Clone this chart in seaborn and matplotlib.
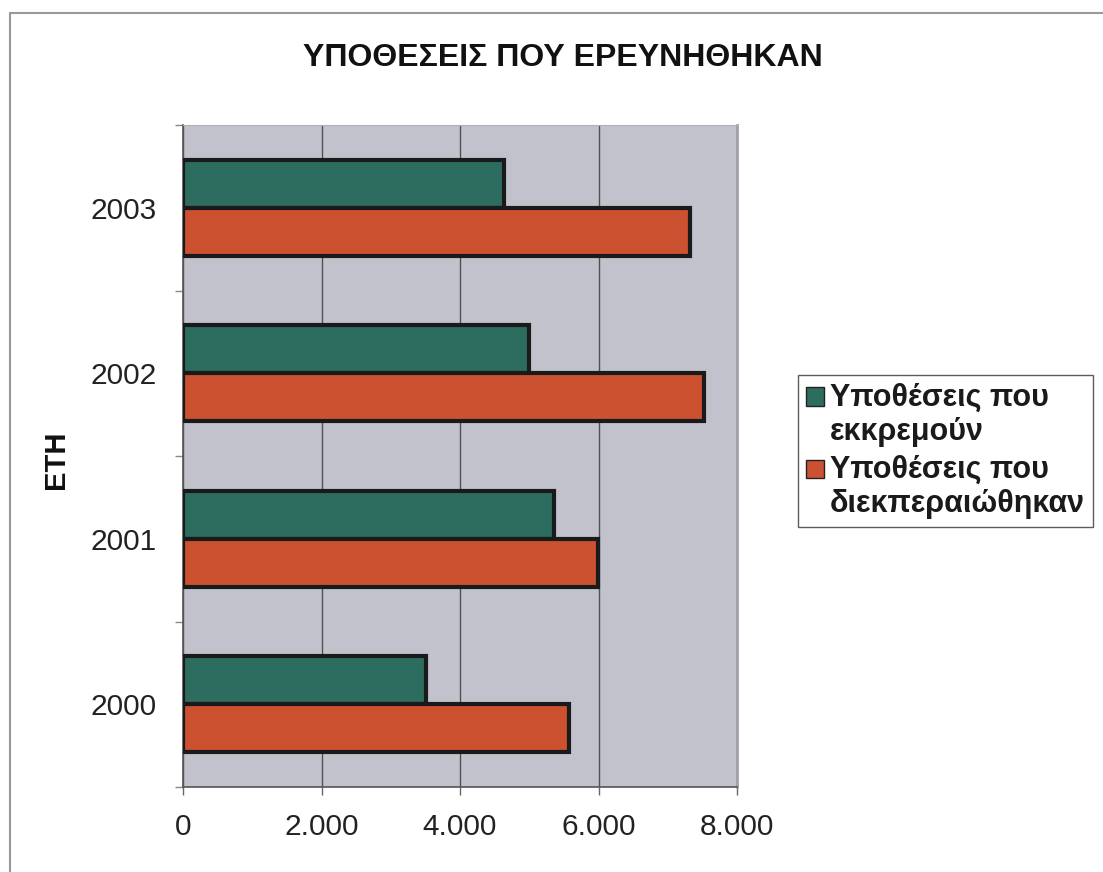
import matplotlib
matplotlib.use('Agg')
import matplotlib.pyplot as plt
import matplotlib.ticker as mticker
from matplotlib.lines import Line2D
from matplotlib.legend_handler import HandlerPatch
from matplotlib.font_manager import FontProperties
import pandas as pd
import seaborn as sns

# data
years = ['2003', '2002', '2001', '2000']
pending = [4630, 5000, 5360, 3510]
completed = [7320, 7520, 5990, 5580]
series_names = ['Υποθέσεις που\nεκκρεμούν', 'Υποθέσεις που\nδιεκπεραιώθηκαν']
xtick_values = [0, 2000, 4000, 6000, 8000]
xtick_labels = ['0', '2.000', '4.000', '6.000', '8.000']

df = pd.DataFrame({
    'year': years * 2,
    'value': pending + completed,
    'series': [series_names[0]] * len(years) + [series_names[1]] * len(years),
})

sns.set_style('white')
plt.rcParams['font.family'] = ['Liberation Sans', 'DejaVu Sans']

fig = plt.figure(figsize=(11.03, 8.72), dpi=100)
ax = fig.add_axes([183 / 1103, 1 - 787 / 872, 554 / 1103, 662 / 872])

colors = ['#2d6d60', '#cb5130']
sns.barplot(data=df, x='value', y='year', hue='series', order=years,
            hue_order=series_names, palette=colors, saturation=1, orient='h',
            width=0.58, edgecolor='#1a1a1a', linewidth=3, ax=ax, zorder=3)

ax.set_facecolor('#c1c2cc')
ax.set_xlim(0, 8000)
ax.set_xticks(xtick_values)
ax.set_xticklabels(xtick_labels)
ax.xaxis.grid(True, color='#505058', linewidth=1)
ax.set_axisbelow(True)
ax.set_xlabel('')
ax.set_ylabel('')

ax.tick_params(axis='x', labelsize=21.5, length=6, width=1, color='#666666',
               pad=13, bottom=True, labelcolor='#222222')
ax.tick_params(axis='y', which='major', labelsize=21.5, length=0, pad=19,
               labelcolor='#222222')
ax.yaxis.set_minor_locator(mticker.FixedLocator([-0.5, 0.5, 1.5, 2.5, 3.5]))
ax.tick_params(axis='y', which='minor', length=6, width=1, color='#888888', left=True)

for side in ['left', 'bottom']:
    ax.spines[side].set_color('#555555')
    ax.spines[side].set_linewidth(1.2)
ax.spines['top'].set_color('#b0b0b8')
ax.spines['right'].set_color('#a0a0a8')
ax.spines['right'].set_linewidth(2)

ax.get_legend().remove()


# legend square sits next to the first line of the label, like the original
def top_square(legend, orig_handle, xdescent, ydescent, width, height, fontsize):
    side = 0.6 * fontsize
    return plt.Rectangle((-xdescent, -ydescent + 0.68 * fontsize), side, side)


leg_font = FontProperties(family='Liberation Sans', weight='bold', size=22)
handles = [plt.Rectangle((0, 0), 1, 1, facecolor=c, edgecolor='#222222', linewidth=1)
           for c in colors]
leg = fig.legend(handles, series_names, loc='upper left',
                 bbox_to_anchor=(798 / 1103, 1 - 375 / 872),
                 prop=leg_font, frameon=True, fancybox=False,
                 edgecolor='#333333', borderpad=0.25,
                 handlelength=0.6, handleheight=0.7, handletextpad=0.2,
                 labelspacing=0.25, borderaxespad=0,
                 handler_map={plt.Rectangle: HandlerPatch(patch_func=top_square)})
leg.get_frame().set_linewidth(1)
for t in leg.get_texts():
    t.set_fontproperties(leg_font)
    t.set_linespacing(1.2)
    t.set_color('#1a1a1a')

fig.text(563 / 1103, 1 - 58 / 872, 'ΥΠΟΘΕΣΕΙΣ ΠΟΥ ΕΡΕΥΝΗΘΗΚΑΝ', ha='center',
         va='center', fontsize=23, fontweight='bold', color='#111111')
fig.text(56 / 1103, 1 - 460 / 872, 'ΕΤΗ', ha='center', va='center',
         rotation=90, fontsize=21, fontweight='bold', color='#111111')

# outer chart frame
fig.add_artist(Line2D([10 / 1103, 1], [1 - 13 / 872, 1 - 13 / 872],
                      transform=fig.transFigure, color='#999999', linewidth=1.5))
fig.add_artist(Line2D([10 / 1103, 10 / 1103], [0, 1 - 13 / 872],
                      transform=fig.transFigure, color='#999999', linewidth=1.5))

fig.savefig('out.png', dpi=100, facecolor='white')
